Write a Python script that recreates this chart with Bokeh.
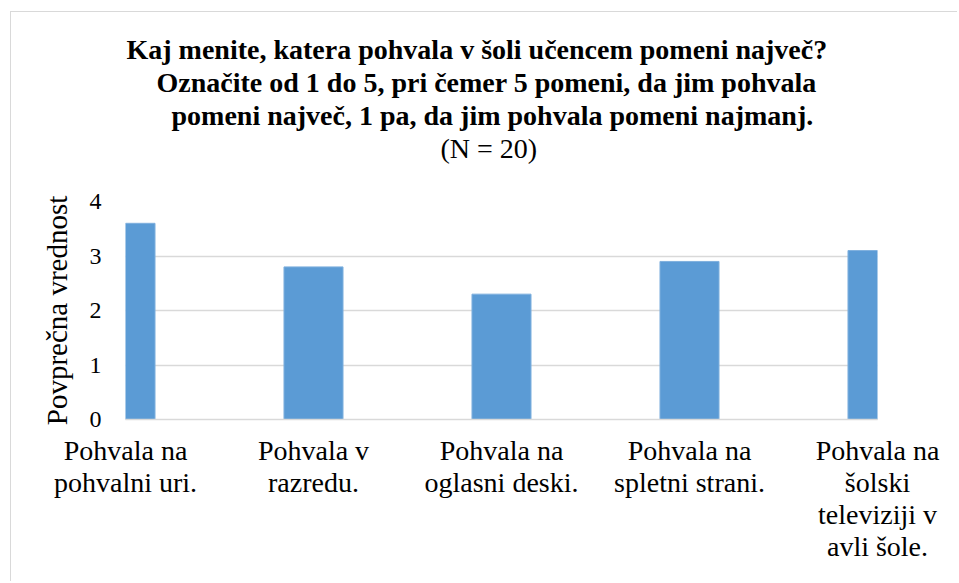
from bokeh.plotting import figure
from bokeh.models import Range1d, FixedTicker, Title, ColumnDataSource
from bokeh.embed import file_html
from bokeh.resources import INLINE

categories = [
    "Pohvala na\npohvalni uri.",
    "Pohvala v\nrazredu.",
    "Pohvala na\noglasni deski.",
    "Pohvala na\nspletni strani.",
    "Pohvala na\nšolski\nteleviziji v\navli šole.",
]
values = [3.6, 2.8, 2.3, 2.9, 3.1]
y_ticks = [0, 1, 2, 3, 4]

title_lines = [
    "Kaj menite, katera pohvala v šoli  učencem pomeni največ?",
    "Označite od 1 do 5, pri čemer 5 pomeni, da jim  pohvala",
    "pomeni največ, 1 pa, da jim  pohvala pomeni najmanj.",
]
title_offsets = [1, 31, 46]
subtitle = "(N = 20)"
y_label = "Povprečna vrednost"

FONT = "Liberation Serif"
idx = list(range(len(categories)))
src = ColumnDataSource(dict(x=idx, top=values))

p = figure(
    width=957, height=581,
    x_range=Range1d(0, len(categories) - 1),
    y_range=Range1d(0, 4),
    output_backend="svg", toolbar_location=None,
    min_border_left=125, min_border_right=80,
    min_border_top=201, min_border_bottom=162,
)
p.title.visible = False
p.outline_line_color = None
p.background_fill_color = "white"
p.border_fill_color = None
p.styles = {"background-color": "white",
            "box-shadow": "inset 10px 11px 0 0 white, inset 11px 12px 0 0 #d9d9d9"}

p.vbar(x="x", top="top", width=0.314, bottom=0, source=src,
       fill_color="#5B9BD5", line_color="#7FB0DE", line_width=1)

# titles stack outward from the frame in the order they are added
p.add_layout(Title(text=" ", text_font_size="1px", standoff=35), "above")
p.add_layout(Title(text=subtitle, align="left", offset=315, text_font=FONT,
                   text_font_size="28px", text_font_style="normal",
                   text_color="#000000", standoff=0), "above")
for line, off in reversed(list(zip(title_lines, title_offsets))):
    p.add_layout(Title(text=line, align="left", offset=off, text_font=FONT,
                       text_font_size="28px", text_font_style="bold",
                       text_color="#000000", standoff=0), "above")

# x axis
xa = p.xaxis[0]
xa.ticker = FixedTicker(ticks=idx)
xa.major_label_overrides = {i: c for i, c in zip(idx, categories)}
xa.major_label_text_font = FONT
xa.major_label_text_font_size = "28px"
xa.major_label_text_color = "#000000"
xa.major_label_text_line_height = 1.04
xa.major_label_standoff = 9
xa.axis_line_color = "#d9d9d9"
xa.axis_line_width = 1.5
xa.major_tick_line_color = None
xa.minor_tick_line_color = None

# y axis
ya = p.yaxis[0]
ya.ticker = FixedTicker(ticks=y_ticks)
ya.axis_label = y_label
ya.axis_label_text_font = FONT
ya.axis_label_text_font_size = "29px"
ya.axis_label_text_font_style = "normal"
ya.axis_label_text_color = "#000000"
ya.axis_label_standoff = 14
ya.major_label_text_font = FONT
ya.major_label_text_font_size = "24px"
ya.major_label_text_color = "#000000"
ya.major_label_standoff = 18
ya.axis_line_color = None
ya.major_tick_line_color = None
ya.minor_tick_line_color = None

p.xgrid.grid_line_color = None
p.ygrid.ticker = FixedTicker(ticks=y_ticks)
p.ygrid.grid_line_color = "#d9d9d9"
p.ygrid.grid_line_width = 1.5

open("out.html", "w").write(file_html(p, INLINE))
